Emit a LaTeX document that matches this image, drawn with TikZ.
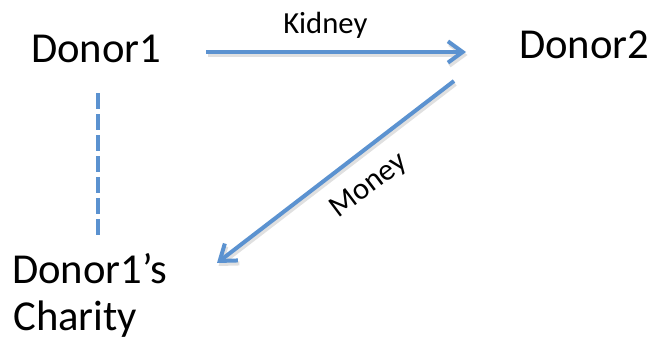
\documentclass[tikz,border=0pt]{standalone}
\usepackage{fontspec}
\setmainfont{Carlito}
\usetikzlibrary{arrows.meta}
\definecolor{lineblue}{RGB}{91,146,208}
\tikzset{
  big/.style={inner sep=0pt, font=\fontsize{32}{36}\selectfont},
  small/.style={inner sep=0pt, font=\fontsize{23}{27}\selectfont},
  conn/.style={draw=lineblue, line width=3pt, line cap=butt,
    -{Straight Barb[length=11pt,width=16pt,line width=3pt]}},
  shade/.style={draw=black!12, line width=3pt, line cap=butt,
    -{Straight Barb[length=11pt,width=16pt,line width=3pt]}},
  dashconn/.style={draw=lineblue, line width=3pt, dash pattern=on 12pt off 3.8pt},
}
\begin{document}
\begin{tikzpicture}[x=0.75pt,y=-0.75pt]
\useasboundingbox (0,0) rectangle (650,339);
% nodes
\node[big, anchor=base west] (d1) at (31,62) {Donor1};
\node[big, anchor=base west] (d2) at (519,58) {Donor2};
\node[big, anchor=base west] (c1) at (12,283) {Donor1’s};
\node[big, anchor=base west] (c2) at (13,330) {Charity};
% connector ends
\coordinate (ka) at (206,52);
\coordinate (kb) at (466,52);
\coordinate (ma) at (454,81);
\coordinate (mb) at (217,263);
\coordinate (da) at (98,93);
\coordinate (db) at (98,237);
% shadows
\draw[shade] ([shift={(1.5,3)}]ka) -- ([shift={(1.5,3)}]kb);
\draw[shade] ([shift={(1.5,3)}]ma) -- ([shift={(1.5,3)}]mb);
% connectors
\draw[conn] (ka) -- (kb);
\draw[conn] (ma) -- (mb);
\draw[dashconn] (da) -- (db);
% labels
\node[small, anchor=base west] (kl) at (283,33) {Kidney};
\node[small, rotate=37] (ml) at (369,186) {Money};
\end{tikzpicture}
\end{document}
